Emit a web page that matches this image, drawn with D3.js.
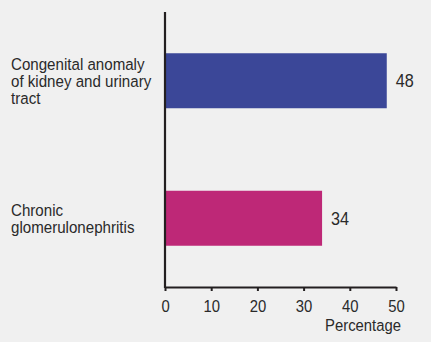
<!DOCTYPE html>
<html>
<head>
<meta charset="utf-8">
<script src="https://cdn.jsdelivr.net/npm/d3@7"></script>
<style>
  html, body { margin: 0; padding: 0; background: #f0f0f0; }
  svg { display: block; }
  text { font-family: "Liberation Sans", Arial, sans-serif; fill: #2a2a2a; }
</style>
</head>
<body>
<svg id="chart" width="431" height="342"></svg>
<script>
// Causes of kidney failure, percentage of cases
const categories = [
  ["Congenital anomaly", "of kidney and urinary", "tract"],
  ["Chronic", "glomerulonephritis"]
];
const values = [48, 34];
const colors = ["#3b4798", "#be2877"];
const xTicks = [0, 10, 20, 30, 40, 50];
const xTitle = "Percentage";

const svg = d3.select("#chart");
const axisTop = 12, xAxisY = 287;
const narrow = 0.9; // horizontal squeeze for a condensed look

const x = d3.scaleLinear().domain([0, 50]).range([165, 396]);
const y = d3.scaleBand()
  .domain(d3.range(values.length))
  .range([axisTop, xAxisY])
  .paddingInner(0.6)
  .paddingOuter(0.3);

// bars
svg.selectAll("rect.bar")
  .data(values)
  .join("rect")
  .attr("class", "bar")
  .attr("x", x(0))
  .attr("y", (d, i) => y(i))
  .attr("width", d => x(d) - x(0))
  .attr("height", y.bandwidth())
  .attr("fill", (d, i) => colors[i]);

// value labels
svg.selectAll("g.val")
  .data(values)
  .join("g")
  .attr("class", "val")
  .attr("transform", (d, i) => `translate(${x(d) + 9},${y(i) + y.bandwidth() / 2}) scale(${narrow},1)`)
  .append("text")
  .attr("dy", "0.36em")
  .attr("font-size", 18)
  .text(d => d);

// category labels
const lineH = 17;
categories.forEach((lines, i) => {
  const cy = y(i) + y.bandwidth() / 2;
  const g = svg.append("g")
    .attr("transform", `translate(11,${cy}) scale(${narrow},1)`);
  const t = g.append("text").attr("font-size", 16.8);
  lines.forEach((ln, j) => {
    t.append("tspan")
      .attr("x", 0)
      .attr("y", (j - (lines.length - 1) / 2) * lineH)
      .attr("dy", "0.36em")
      .text(ln);
  });
});

// x axis
const xAxis = d3.axisBottom(x).tickValues(xTicks).tickSize(4).tickSizeOuter(0).tickPadding(9);
const gx = svg.append("g").attr("transform", `translate(0,${xAxisY})`).call(xAxis);
gx.select(".domain").attr("stroke", "#231f20").attr("stroke-width", 2.2);
gx.selectAll(".tick line").attr("stroke", "#231f20").attr("stroke-width", 2);
gx.selectAll(".tick text")
  .attr("font-size", 16.5)
  .attr("transform", `scale(${narrow},1)`)
  .style("font-family", '"Liberation Sans", Arial, sans-serif')
  .attr("fill", "#2a2a2a");

// y axis line
svg.append("line")
  .attr("x1", x(0)).attr("x2", x(0))
  .attr("y1", axisTop).attr("y2", xAxisY + 1)
  .attr("stroke", "#231f20").attr("stroke-width", 2.2);

// axis title
svg.append("g")
  .attr("transform", `translate(${x(50) + 5},331) scale(${narrow},1)`)
  .append("text")
  .attr("text-anchor", "end")
  .attr("font-size", 16.5)
  .text(xTitle);
</script>
</body>
</html>
